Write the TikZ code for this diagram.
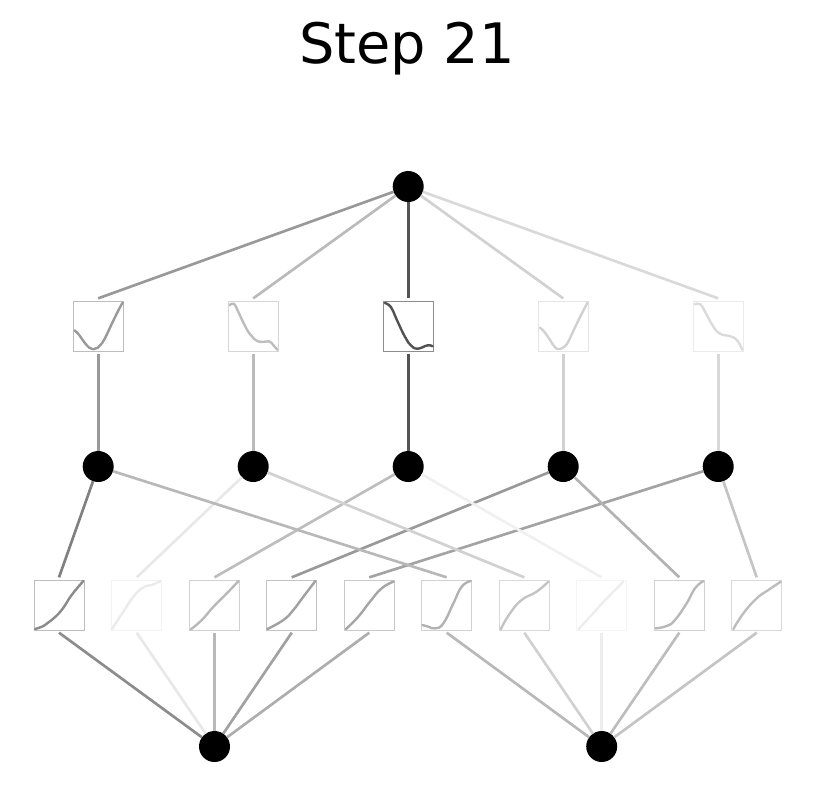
\documentclass[tikz,border=0pt]{standalone}
\usepackage{fontspec}
\setmainfont{DejaVu Sans}
\tikzset{
  dot/.style={circle,fill=black,draw=none,minimum size=31*0.75pt,inner sep=0pt,outer sep=0pt},
  kbox/.style={rectangle,draw=white!#1!black,line width=0.75pt,minimum size=50*0.75pt,inner sep=0pt,outer sep=2.0pt},
  edge/.style={draw=white!#1!black,line width=2.0pt},
  spline/.style={draw=white!#1!black,line width=1.8pt,line cap=round,line join=round},
  titletext/.style={font=\fontsize{41.8}{42}\selectfont,anchor=base,inner sep=0pt}
}
\newcommand{\kan}[6]{%
  \node[kbox=#4] (#1) at (#2,#3) {};
  \begin{scope}[shift={(#2-25,#3+25)},x=0.25pt,y=0.25pt]
    \draw[spline=#5] plot[smooth,tension=0.8] coordinates {#6};
  \end{scope}
}
\begin{document}
\begin{tikzpicture}[x=0.75pt,y=-0.75pt]
\useasboundingbox (0,0) rectangle (814,794);
\node[titletext] (title) at (407,63) {Step 21};
% nodes
\node[dot] (t) at (408.2,186.5) {};
\foreach \n/\x in {c1/98.2,c2/253.2,c3/408.2,c4/563.2,c5/718.2} \node[dot] (\n) at (\x,466.5) {};
\node[dot] (l) at (214.5,746.5) {};
\node[dot] (r) at (601.7,746.5) {};
% upper boxes
\kan{u1}{98.2}{326}{74}{60}{(4,62)(18,48)(32,28)(48,10)(60,5)(74,10)(87,24)(102,52)(117,84)(132,115)(148,145)}
\kan{u2}{253.2}{326}{84}{74}{(4,137)(17,142)(30,118)(47,82)(62,55)(77,37)(97,27)(122,29)(135,18)(147,4)}
\kan{u3}{408.2}{326}{55}{32}{(5,144)(23,132)(38,100)(53,67)(68,38)(83,17)(103,7)(133,17)(148,14)}
\kan{u4}{563.2}{326}{90}{82}{(5,70)(18,58)(33,37)(48,14)(60,6)(74,10)(88,24)(103,55)(118,87)(133,117)(148,145)}
\kan{u5}{718.2}{326}{92}{86}{(5,140)(22,140)(37,115)(52,87)(77,54)(112,44)(132,32)(147,4)}
% lower boxes
\kan{b1}{59}{605}{74}{54}{(3,3)(30,13)(53,30)(83,60)(113,105)(148,147)}
\kan{b2}{136.7}{605}{95}{92}{(0,2)(35,55)(65,100)(95,128)(120,135)(147,147)}
\kan{b3}{214.5}{605}{82}{72}{(4,2)(37,30)(72,70)(112,110)(147,147)}
\kan{b4}{291.7}{605}{76}{63}{(2,3)(50,30)(80,60)(110,100)(146,147)}
\kan{b5}{369.3}{605}{79}{65}{(5,3)(42,40)(77,85)(112,125)(147,145)}
\kan{b6}{446.7}{605}{82}{70}{(2,15)(20,10)(40,5)(65,20)(95,80)(120,130)(147,147)}
\kan{b7}{524.3}{605}{85}{77}{(4,2)(32,50)(67,90)(112,115)(147,145)}
\kan{b8}{601.7}{605}{96}{93}{(5,2)(60,62)(100,105)(140,145)}
\kan{b9}{679.3}{605}{82}{72}{(4,5)(37,12)(62,30)(97,80)(122,125)(147,147)}
\kan{b10}{756.7}{605}{85}{74}{(5,3)(35,50)(75,95)(110,120)(147,145)}
% connectors
\foreach \u/\c/\g in {u1/c1/60,u2/c2/73,u3/c3/33,u4/c4/82,u5/c5/85}{
  \draw[edge=\g] (t) -- (\u.north);
  \draw[edge=\g] (\u.south) -- (\c);
}
\foreach \c/\b/\g in {c1/b1/50,c2/b2/91,c3/b3/74,c4/b4/60,c5/b5/64,c1/b6/72,c2/b7/82,c3/b8/94,c4/b9/70,c5/b10/77}
  \draw[edge=\g] (\c) -- (\b.north);
\foreach \b/\e/\g in {b1/l/55,b2/l/91,b3/l/72,b4/l/63,b5/l/68,b6/r/72,b7/r/82,b8/r/93,b9/r/74,b10/r/77}
  \draw[edge=\g] (\b.south) -- (\e);
\end{tikzpicture}
\end{document}
